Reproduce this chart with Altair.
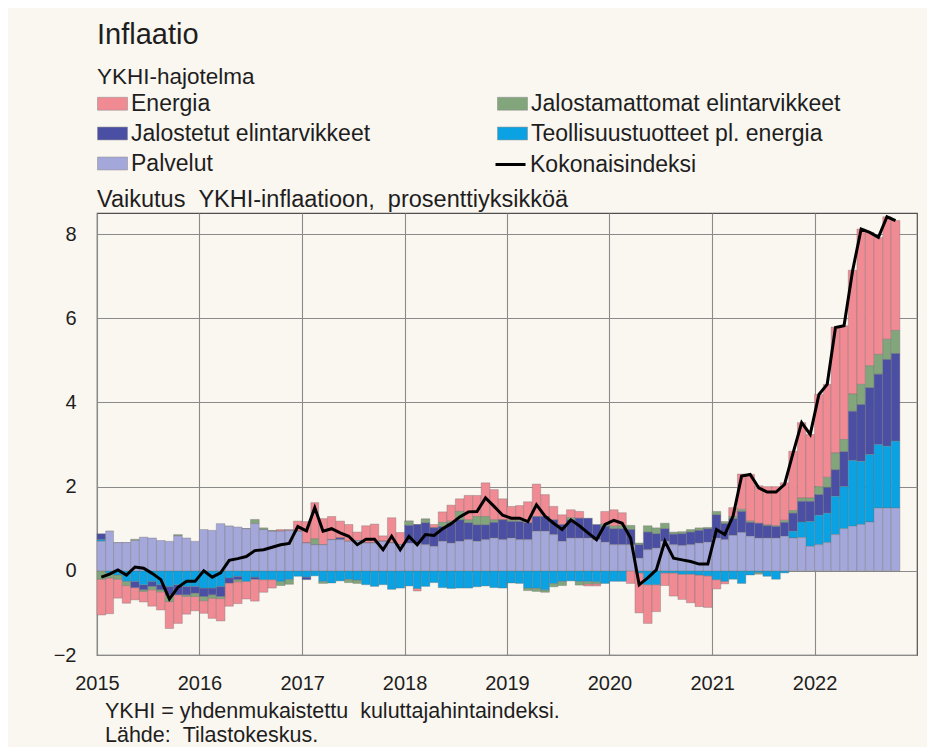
import altair as alt
import pandas as pd

# ---- data (monthly, Jan 2015 - Oct 2022), contributions in percentage points ----
categories = ["Energia", "Jalostamattomat elintarvikkeet", "Jalostetut elintarvikkeet",
              "Teollisuustuotteet pl. energia", "Palvelut"]
colors = ["#F08A93", "#82A57C", "#4B4FA3", "#0AA2E2", "#A4A7D9"]
stack_order = {"Palvelut": 0, "Teollisuustuotteet pl. energia": 1, "Jalostetut elintarvikkeet": 2,
               "Jalostamattomat elintarvikkeet": 3, "Energia": 4}

energia = [
    -0.85, -0.85, -0.45, -0.42, -0.29, -0.25, -0.39, -0.43, -0.64, -0.68, -0.42, -0.34,
    -0.30, -0.48, -0.53, -0.55, -0.52, -0.42, -0.52, -0.30, -0.20, 0.04, 0.02, 0.24,
    0.51, 0.86, 0.62, 0.55, 0.40, 0.40, 0.20, 0.41, 0.45, 0.13, 0.60, 0.29,
    0.00, -0.06, 0.00, 0.08, 0.25, 0.38, 0.30, 0.58, 0.50, 0.80, 0.72, 0.50,
    0.32, 0.35, 0.50, 0.77, 0.52, 0.32, 0.23, 0.19, 0.16, -0.05, -0.05, 0.30,
    0.39, 0.31, -0.30, -0.95, -0.92, -0.64, -0.30, -0.55, -0.60, -0.68, -0.75, -0.75,
    -0.22, -0.06, 0.21, 0.84, 1.11, 0.89, 0.91, 0.93, 0.89, 1.41, 1.79, 1.51,
    2.19, 2.21, 2.99, 2.70, 2.94, 3.69, 3.17, 2.78, 2.91, 2.61]
jalostamattomat = [
    -0.20, -0.12, -0.10, -0.10, 0.03, -0.04, -0.08, -0.05, -0.16, 0.03, -0.04, -0.08,
    -0.10, -0.08, -0.05, 0.00, -0.05, 0.00, 0.10, 0.04, 0.02, -0.10, -0.12, 0.00,
    0.00, 0.14, -0.05, 0.00, 0.00, -0.08, -0.08, 0.00, 0.00, 0.00, 0.00, 0.00,
    0.10, 0.00, 0.09, 0.00, 0.10, 0.05, 0.20, 0.07, 0.20, 0.20, 0.06, 0.00,
    0.04, 0.03, -0.06, -0.08, -0.06, -0.08, -0.10, 0.05, -0.09, -0.06, -0.05, 0.05,
    0.06, 0.07, 0.10, 0.04, 0.15, 0.14, 0.13, 0.05, 0.05, 0.06, 0.06, 0.03,
    0.08, 0.05, 0.05, 0.05, 0.03, -0.04, 0.02, 0.02, 0.05, 0.06, 0.08, 0.08,
    0.19, 0.24, 0.40, 0.29, 0.41, 0.48, 0.52, 0.47, 0.48, 0.55]
jalostetut = [
    0.14, 0.00, 0.00, 0.00, -0.15, -0.12, -0.12, -0.12, -0.20, -0.24, -0.20, -0.16,
    -0.20, -0.16, -0.24, -0.12, -0.08, 0.00, -0.05, 0.00, 0.00, 0.00, 0.00, 0.00,
    -0.06, 0.00, 0.00, 0.00, 0.04, 0.00, 0.00, 0.00, 0.00, 0.00, 0.00, 0.00,
    0.42, 0.44, 0.52, 0.44, 0.35, 0.47, 0.51, 0.40, 0.39, 0.35, 0.37, 0.47,
    0.39, 0.43, 0.40, 0.35, 0.35, 0.35, 0.40, 0.43, 0.47, 0.47, 0.36, 0.38,
    0.38, 0.38, 0.36, 0.32, 0.42, 0.34, 0.30, 0.25, 0.28, 0.30, 0.30, 0.32,
    0.55, 0.38, 0.40, 0.50, 0.33, 0.35, 0.29, 0.27, 0.33, 0.43, 0.49, 0.48,
    0.49, 0.61, 0.63, 0.83, 1.17, 1.35, 1.59, 1.67, 2.06, 2.08]
teollisuus = [
    0.04, -0.05, -0.10, -0.25, -0.25, -0.33, -0.25, -0.33, -0.37, -0.33, -0.37, -0.37,
    -0.41, -0.41, -0.37, -0.17, -0.13, -0.25, -0.15, -0.21, -0.21, -0.25, -0.20, -0.13,
    -0.15, -0.12, -0.25, -0.29, -0.24, -0.20, -0.22, -0.33, -0.37, -0.33, -0.44, -0.41,
    -0.36, -0.42, -0.37, -0.28, -0.40, -0.42, -0.41, -0.41, -0.38, -0.36, -0.40, -0.41,
    -0.29, -0.30, -0.41, -0.41, -0.45, -0.30, -0.25, -0.24, -0.25, -0.25, -0.26, -0.30,
    -0.25, -0.25, 0.00, -0.05, -0.33, -0.33, -0.05, -0.05, -0.08, -0.08, -0.10, -0.12,
    -0.21, -0.25, -0.20, -0.30, -0.10, -0.04, -0.13, -0.20, -0.05, 0.16, 0.37, 0.59,
    0.70, 0.70, 0.91, 1.00, 1.56, 1.50, 1.60, 1.51, 1.47, 1.59]
palvelut = [
    0.70, 0.94, 0.67, 0.67, 0.72, 0.80, 0.78, 0.72, 0.70, 0.83, 0.78, 0.70,
    0.98, 0.96, 1.12, 1.06, 1.04, 1.00, 1.12, 0.98, 0.94, 0.94, 0.96, 0.94,
    0.66, 0.62, 0.62, 0.74, 0.74, 0.70, 0.72, 0.66, 0.66, 0.70, 0.66, 0.62,
    0.66, 0.66, 0.62, 0.58, 0.70, 0.66, 0.70, 0.74, 0.70, 0.74, 0.78, 0.74,
    0.78, 0.74, 0.74, 0.94, 0.94, 0.86, 0.70, 0.78, 0.78, 0.78, 0.74, 0.68,
    0.62, 0.62, 0.62, 0.30, 0.50, 0.54, 0.70, 0.62, 0.60, 0.62, 0.66, 0.68,
    0.78, 0.74, 0.84, 0.91, 0.82, 0.78, 0.78, 0.78, 0.82, 0.78, 0.79, 0.58,
    0.62, 0.67, 0.86, 1.00, 1.06, 1.10, 1.16, 1.49, 1.49, 1.49]
kokonaisindeksi = [
    -0.15, -0.08, 0.02, -0.10, 0.09, 0.06, -0.06, -0.21, -0.67, -0.39, -0.25, -0.25,
    0.00, -0.15, -0.05, 0.25, 0.29, 0.34, 0.48, 0.50, 0.56, 0.62, 0.65, 1.05,
    0.95, 1.50, 0.94, 1.00, 0.90, 0.82, 0.62, 0.75, 0.75, 0.50, 0.82, 0.50,
    0.82, 0.62, 0.86, 0.84, 1.00, 1.12, 1.28, 1.40, 1.41, 1.73, 1.53, 1.32,
    1.25, 1.25, 1.17, 1.57, 1.30, 1.13, 0.98, 1.21, 1.07, 0.90, 0.74, 1.10,
    1.20, 1.13, 0.78, -0.33, -0.17, 0.02, 0.70, 0.30, 0.26, 0.22, 0.16, 0.16,
    0.98, 0.86, 1.30, 2.25, 2.29, 1.97, 1.87, 1.87, 2.05, 2.80, 3.52, 3.24,
    4.19, 4.43, 5.78, 5.82, 7.13, 8.12, 8.04, 7.92, 8.41, 8.32]

year_ticks = [2015, 2016, 2017, 2018, 2019, 2020, 2021, 2022]
y_ticks = [-2, 0, 2, 4, 6, 8]

title_text = "Inflaatio"
subtitle_text = "YKHI-hajotelma"
unit_text = "Vaikutus \u00a0YKHI-inflaatioon, \u00a0prosenttiyksikköä"
note_text = "YKHI = yhdenmukaistettu \u00a0kuluttajahintaindeksi."
source_text = "Lähde: \u00a0Tilastokeskus."

# ---- build tables ----
months = pd.date_range("2015-01-01", periods=len(kokonaisindeksi), freq="MS")
month_ends = months + pd.offsets.MonthBegin(1)
series = {"Energia": energia, "Jalostamattomat elintarvikkeet": jalostamattomat,
          "Jalostetut elintarvikkeet": jalostetut, "Teollisuustuotteet pl. energia": teollisuus,
          "Palvelut": palvelut}
rows = []
for cat, vals in series.items():
    for d, e, v in zip(months, month_ends, vals):
        rows.append({"date": d, "date_end": e, "value": v, "cat": cat, "ord": stack_order[cat]})
bars_df = pd.DataFrame(rows)
line_df = pd.DataFrame({"mid": months + (month_ends - months) / 2, "total": kokonaisindeksi,
                        "name": "Kokonaisindeksi"})

FONT = "Liberation Sans"
TXT = "#1e1e1e"
W, H = 820, 442

x_scale = alt.Scale(domain=[alt.DateTime(year=2015, month=1, date=1),
                            alt.DateTime(year=2023, month=1, date=1)])
y_scale = alt.Scale(domain=[-2, 8.5], nice=False, zero=False, padding=0)

rect_symbol = "M-1,-0.43L1,-0.43L1,0.43L-1,0.43Z"

bars = alt.Chart(bars_df).transform_stack(
    stack="value", as_=["v0", "v1"], groupby=["date"],
    sort=[alt.SortField("ord", order="ascending")], offset="zero",
).mark_bar(stroke="#707070", strokeWidth=0.5, strokeOpacity=0.7).encode(
    x=alt.X("date:T", scale=x_scale, title=None,
            axis=alt.Axis(values=[alt.DateTime(year=y, month=1, date=1) for y in year_ticks],
                          format="%Y", labelFlush=False, ticks=False, domain=False,
                          labelPadding=18, labelFontSize=20, grid=True)),
    x2="date_end:T",
    y=alt.Y("v0:Q", scale=y_scale, title=None,
            axis=alt.Axis(values=y_ticks, ticks=False, domain=False, labelPadding=21,
                          labelFontSize=20, grid=True)),
    y2="v1:Q",
    color=alt.Color("cat:N", sort=categories,
                    scale=alt.Scale(domain=categories, range=colors),
                    legend=alt.Legend(orient="none", legendX=0, legendY=-125, columns=2,
                                      direction="horizontal",
                                      columnPadding=125, rowPadding=2, title=None,
                                      symbolType=rect_symbol, symbolSize=900,
                                      symbolStrokeWidth=0.5, symbolStrokeColor="#888",
                                      labelFontSize=23, labelFont=FONT, labelColor=TXT,
                                      labelOffset=3, labelLimit=500, padding=0)),
)

line = alt.Chart(line_df).mark_line(strokeWidth=3).encode(
    x=alt.X("mid:T", scale=x_scale),
    y=alt.Y("total:Q", scale=y_scale),
    stroke=alt.Stroke("name:N", scale=alt.Scale(domain=["Kokonaisindeksi"], range=["#000000"]),
                      legend=alt.Legend(orient="none", legendX=397, legendY=-65, title=None,
                                        symbolType="stroke", symbolSize=900, symbolStrokeWidth=3,
                                        labelFontSize=23, labelFont=FONT, labelColor=TXT,
                                        labelOffset=3, labelLimit=500, padding=0)),
)


def label(text, x, y, size):
    return alt.Chart(pd.DataFrame({"t": [text]})).mark_text(
        align="left", baseline="alphabetic", font=FONT, fontSize=size, color=TXT
    ).encode(text="t:N", x=alt.value(x), y=alt.value(y))


chart = alt.layer(
    bars, line,
    label(title_text, 0, -169, 29),
    label(subtitle_text, 0, -129, 22.5),
    label(unit_text, 0, -6, 23.5),
    label(note_text, 8, 505, 21.5),
    label(source_text, 8, 529, 21.5),
).properties(
    width=W, height=H,
    autosize=alt.AutoSizeParams(type="none"),
    padding={"left": 89, "top": 205, "right": 10, "bottom": 92},
    background="#FAF6F0",
).configure_view(
    stroke="#505050", strokeWidth=1.2
).configure_axis(
    labelFont=FONT, labelColor=TXT, gridColor="#8a8a8a", gridWidth=1.1
)

chart.save("out.html", embed_options={"renderer": "svg", "actions": False})
